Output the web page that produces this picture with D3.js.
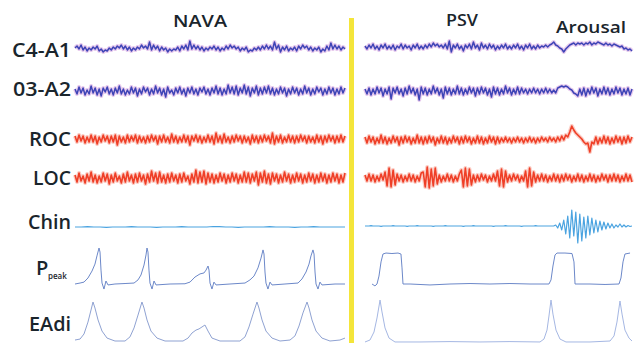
<!DOCTYPE html>
<html>
<head>
<meta charset="utf-8">
<script src="https://cdn.jsdelivr.net/npm/d3@7"></script>
<style>
  html, body { margin: 0; padding: 0; background: #ffffff; }
  svg { display: block; }
  text { font-family: 'Open Sans', 'Noto Sans', sans-serif; fill: #1a252c; font-weight: 600; }
</style>
</head>
<body>
<div id="chart"></div>
<script>
// ---- data (arbitrary signal units) ----
// Each window is 30 s long; traces are evenly sampled over the window.
const windows = ['NAVA', 'PSV'];
const channels = ['C4-A1', '03-A2', 'ROC', 'LOC', 'Chin'];

const c4Nava = `0 2 -1 3 -2 1 -3 0 -2 1 | -1 2 -3 -1 -4 -2 -3 0 -2 1 | -1 2 0 3 -1 2 -2 1 -3 0 |
  -2 1 -1 3 0 2 -1 6 -2 3 | -1 2 -3 1 -2 0 -4 -1 -3 -1 | -2 1 -3 2 -1 3 -2 7 -1 3 |
  -1 2 -2 1 -3 0 -2 1 -1 2 | -2 1 -3 0 -2 2 -1 3 0 2 | -1 1 -3 0 -2 1 -4 -2 -3 0 |
  -2 1 -2 2 -1 3 -1 2 -2 6 | -1 3 -4 1 -2 2 -3 0 -2 1 | -3 2 -1 3 0 2 -2 1 -3 0 |
  -2 1 -4 -1 -3 2 -2 5 -1 3 | -1 2 -2 1 -1`;
const o3Nava = `2 -3 4 -2 3 -4 1 -3 5 -2 | 3 -4 2 -5 3 -1 4 -3 2 -4 | 3 -2 5 -3 2 -4 1 -3 4 -2 |
  3 -5 2 -3 4 -1 3 -4 2 -3 | 5 -2 3 -4 2 -6 4 -2 1 -4 | 3 -2 4 -3 2 -5 3 -2 4 -3 |
  2 -4 3 -1 4 -3 2 -4 3 -2 | 5 -3 3 -4 2 -3 6 -2 4 -3 | 5 -4 3 -2 6 -3 4 -5 3 -2 |
  5 -4 3 -3 4 -2 5 -3 3 -4 | 2 -3 4 -2 3 -5 2 -3 4 -2 | 3 -4 2 -3 5 -2 3 -4 2 -3 |
  4 -1 3 -4 2 -3 4 -2 3 -4 | 2 -3 4 -2 3`;
const rocNava = `3 -3 4 -2 3 -4 2 -3 4 -3 | 3 -5 2 -3 4 -2 3 -4 3 -3 | 4 -6 3 -3 2 -4 4 -3 3 -2 |
  4 -4 3 -3 2 -4 3 -3 4 -2 | 3 -5 3 -3 4 -3 2 -4 5 -3 | 3 -4 2 -3 4 -3 3 -6 3 -2 |
  4 -3 3 -4 2 -3 4 -3 3 -5 | 6 -3 3 -4 5 -3 2 -4 3 -3 | 4 -2 3 -4 3 -3 2 -5 4 -3 |
  3 -4 3 -3 4 -2 3 -4 6 -5 | 3 -3 4 -4 2 -3 4 -3 3 -4 | 3 -3 4 -2 3 -4 3 -3 2 -4 |
  4 -3 3 -5 3 -3 4 -2 3 -4 | 3 -3 4 -3 3`;
const locNava = `3 -4 5 -3 2 -5 4 -3 6 -4 | 3 -5 2 -4 5 -3 4 -6 3 -4 | 5 -3 2 -5 4 -4 6 -3 3 -5 |
  4 -4 5 -3 3 -6 4 -4 7 -3 | 5 -5 6 -4 3 -5 4 -4 5 -3 | 3 -5 4 -4 5 -3 2 -6 4 -4 |
  8 -5 6 -4 7 -6 5 -4 4 -5 | 3 -4 5 -3 4 -5 3 -4 5 -3 | 4 -5 3 -4 6 -4 5 -5 4 -3 |
  6 -7 5 -4 7 -5 4 -6 5 -3 | 4 -5 3 -4 6 -3 4 -5 3 -4 | 5 -3 4 -5 3 -4 5 -3 4 -5 |
  3 -4 5 -3 4 -5 3 -4 5 -3 | 4 -5 3 -4 5`;
const chinNava = `0 0 0.3 0 0 -0.3 0 0 0 0.4 | 0 0 0 -0.3 0 0 0 0.3 0 0 |
  0 0 0.5 0.3 0 0 -0.3 0 0 0 | 0 0.3 0 0 0 -0.3 0 0 0.3 0 | 0 0 0 0`;

const c4Psv = `1 -2 2 -1 3 -2 1 -3 2 -1 | 3 -2 1 -2 2 -3 1 -1 3 -2 | 2 -1 1 -3 2 -1 3 -2 1 -2 |
  2 -1 3 0 4 1 3 0 2 -1 | 3 -2 6 -5 2 -1 3 -2 1 -4 | 2 -1 3 -2 5 -1 2 -3 4 -1 |
  2 -2 3 -1 2 -3 1 -2 2 -1 | 3 -2 1 -2 2 -1 3 -2 1 -3 | 2 -1 3 -2 1 -2 2 -1 1 0 |
  2 0 2 3 5 2 1 -1 -2 -5 | -2 0 2 3 4 2 4 3 4 2 | 4 3 5 2 4 3 5 4 3 2 |
  4 2 3 1 3 2 1 0 1 -2 | -1 -3 -2 -4`;
const o3Psv = `2 -3 3 -4 2 -3 4 -2 3 -5 | 2 -3 4 -8 3 -2 4 -3 2 -5 | 3 -3 5 -2 3 -4 2 -9 4 -3 |
  3 -4 2 -3 5 -2 3 -4 2 -7 | 4 -3 3 -4 2 -3 5 -3 3 -4 | 2 -3 4 -2 3 -5 3 -3 4 -2 |
  3 -4 2 -6 4 -3 3 -4 2 -3 | 5 -2 3 -4 2 -3 4 -3 3 -2 | 2 -3 2 -2 3 -2 2 -3 2 -2 |
  3 -2 2 -2 1 -2 3 4 5 4 | 5 4 2 1 -2 -3 -5 2 -4 3 | -5 2 -3 4 -2 3 -5 2 -3 4 |
  -3 3 -4 2 -3 4 -2 3 -4 2 | -3 3 -4 2`;
const rocPsv = `3 -3 4 -2 3 -4 2 -3 5 -3 | 3 -4 2 -3 4 -2 3 -5 3 -3 | 4 -2 3 -4 2 -3 5 -3 3 -4 |
  3 -3 4 -2 3 -5 2 -3 4 -3 | 3 -4 2 -3 4 -2 3 -4 3 -3 | 4 -2 3 -4 2 -3 4 -3 3 -4 |
  2 -3 4 -2 3 -4 3 -3 2 -2 | 3 -2 2 -3 2 -2 3 -2 2 -3 | 2 -2 3 -2 2 -3 2 -2 3 -1 |
  2 -2 3 -1 2 -2 3 -1 4 0 | 5 3 8 14 10 7 5 3 1 -2 | -4 -3 -12 -2 -4 3 -4 2 -3 4 |
  -3 3 -4 2 -3 4 -2 3 -4 3 | -3 4 -2 3`;
const locPsv = `3 -3 4 -3 3 -4 2 -3 4 -2 | 6 -8 10 -9 8 -7 4 -3 3 -4 | 2 -3 4 -3 3 -4 2 -3 5 6 |
  -9 11 -10 9 -8 10 -6 3 -4 2 | -3 4 -3 3 -4 2 -3 4 8 -9 | 10 -8 9 -7 3 -4 3 -3 4 -2 |
  3 -4 2 -3 4 -3 7 -8 9 -9 | 7 -4 3 -3 4 -2 3 -4 2 -3 | 7 -9 10 -8 6 -4 3 -3 4 -3 |
  3 -4 2 -3 4 -3 3 -4 3 -3 | 4 -2 3 -4 2 -3 4 -3 3 -4 | 2 -3 4 -3 3 -4 2 -3 4 -2 |
  3 -4 3 -3 4 -3 3 -4 2 -3 | 4 -3 3 -4`;
const chinPsv = `0 0 0 0.4 0 0 0 0 -0.3 0 | 0 0 0 0 0.3 0 0 0 0 0 | 0 -0.3 0 0 0 0 0.4 0 0 0 |
  0 0 0 0 -0.3 0 0 0 0 0 | 0.3 0 0 0 0 0 0 0 0 -0.3 | 0 0 0 0 0.3 0 0 0 0 0 |
  0 0 0 0 -0.3 0 0 0 0 0 | 0.4 0 0 0 0 0 0 0 -0.3 0 | 0 0 0 0 0 0.3 0 0 0 0 |
  0 0 0 0 0 1 -2 3 -4 6 | -8 10 -12 16 -10 14 -17 12 -15 9 | -12 10 -9 8 -7 6 -6 5 -4 4 |
  -3 3 -2 2 -2 1 -1 2 -1 1 | -1 0.5 -0.5 0`;

// Ppeak (cmH2O) and EAdi (µV) breath keypoints, time in s
const pPeakNavaT = [0, 0.56, 1.0, 1.44, 1.89, 2.22, 2.44, 2.67, 2.78, 2.89, 3.0, 3.22, 3.44, 3.67, 4.44, 5.56,
  6.56, 7.0, 7.33, 7.67, 7.89, 8.0, 8.11, 8.22, 8.33, 8.56, 8.78, 9.0, 10.56, 12.22,
  12.78, 13.33, 13.89, 14.33, 14.56, 14.78, 14.89, 15.0, 15.22, 15.44, 15.67, 17.22,
  18.89, 19.44, 19.89, 20.33, 20.67, 20.89, 21.0, 21.11, 21.22, 21.44, 21.67, 21.89, 23.33,
  24.78, 25.22, 25.67, 26.0, 26.22, 26.44, 26.56, 26.67, 26.78, 27.0, 27.22, 27.44, 28.89, 30];
const pPeakNavaV = [5, 5.4, 5.8, 7.5, 10.4, 13.3, 16.7, 20, 18.3, 10.8, 5.4, 2.9, 6.25, 4.6, 5, 5.2,
  5.4, 6.7, 8.75, 12.9, 17.1, 20, 18.3, 10.8, 5.4, 2.9, 6.25, 4.6, 5, 5.1,
  5.8, 7.9, 9.2, 9.6, 10.8, 12.5, 10.8, 5.4, 2.9, 5.8, 4.6, 5,
  5.4, 6.7, 8.3, 11.7, 15.8, 19.2, 17.5, 10, 5.4, 2.9, 5.8, 4.6, 5,
  5.4, 7.1, 10, 13.3, 16.7, 19.2, 17.5, 10, 5, 2.9, 5.8, 4.6, 5, 5];
const eadiNavaT = [0, 0.56, 1.0, 1.44, 1.78, 2.0, 2.22, 2.56, 3.0, 3.56, 4.44, 5.56,
  6.11, 6.56, 7.0, 7.44, 7.67, 8.0, 8.44, 9.11, 10.0, 12.0,
  12.56, 13.0, 13.44, 13.78, 14.11, 14.44, 14.78, 15.22, 16.11, 18.33,
  18.89, 19.33, 19.78, 20.22, 20.44, 20.78, 21.22, 21.89, 22.78,
  23.89, 24.44, 24.89, 25.33, 25.78, 26.0, 26.33, 26.78, 27.44, 28.33, 29.44, 30];
const eadiNavaV = [0.5, 1.0, 3.6, 9.7, 15.9, 20, 16.9, 10.8, 5.1, 1.5, 0, 0,
  2.1, 6.7, 13.3, 20, 16.9, 10.8, 5.1, 1.5, 0, 0,
  1.5, 4.1, 5.6, 6.2, 7.2, 8.2, 5.1, 1.5, 0, 0,
  2.1, 7.2, 13.8, 20, 16.9, 10.8, 5.1, 1.5, 0,
  0.5, 2.6, 7.7, 14.4, 20, 16.9, 10.8, 5.1, 1.5, 0, 0.5, 1.5];

const pPeakPsvT = [0.79, 1.12, 1.35, 1.57, 1.80, 2.02, 2.36, 3.03, 3.71, 4.04, 4.16, 4.27, 5.06, 7.30,
  9.55, 11.80, 14.04, 16.29, 18.54, 20.67, 20.90, 21.12, 21.35, 21.57, 22.47, 23.26, 23.48,
  23.60, 25.28, 26.97, 28.54, 28.76, 28.99, 29.21, 29.78];
const pPeakPsvV = [5, 4.2, 5, 8.3, 14.2, 17.5, 17.9, 17.7, 17.9, 17.5, 11.7, 5, 5, 4.6,
  5, 5.2, 5, 5.2, 5, 5, 6.7, 12.5, 17.1, 17.9, 17.9, 17.7, 14.2,
  5, 5, 4.8, 5, 7.5, 14.2, 17.5, 17.9];
const eadiPsvT = [0, 0.56, 1.01, 1.35, 1.69, 1.91, 2.25, 2.70, 3.37, 6.18, 9.55, 12.92, 16.29, 19.66,
  20.11, 20.45, 20.67, 20.90, 21.12, 21.46, 21.91, 22.58, 25.28, 27.53, 27.98, 28.31, 28.65,
  28.88, 29.21, 29.66, 30];
const eadiPsvV = [-0.5, 0.5, 4.6, 11.8, 21, 14.9, 6.7, 1.5, -0.5, -0.5, -0.3, -0.5, -0.3, -0.5,
  1.0, 5.6, 12.8, 21, 13.8, 5.6, 1.0, -0.5, -0.5, 0, 2.6, 9.7, 20.5,
  13.8, 5.6, 1.5, 0];

// ---- layout ----
const W = 638;
const H = 343;
const parse = (s) => s.trim().split(/[\s|]+/).filter((d) => d !== '').map(Number);

const svg = d3.select('#chart').append('svg').attr('width', W).attr('height', H);

const xScales = [
  d3.scaleLinear().domain([0, 30]).range([75, 345]),
  d3.scaleLinear().domain([0, 30]).range([365, 632]),
];

// channel rows: baseline per window, colour
const rows = [
  { name: 'C4-A1', base: [48, 47], color: '#3e44b6', halo: '#c98ad6', width: 1.5, series: [c4Nava, c4Psv] },
  { name: '03-A2', base: [91, 91], color: '#3e44b6', halo: '#c98ad6', width: 1.5, series: [o3Nava, o3Psv] },
  { name: 'ROC', base: [139, 140], color: '#ef3f27', halo: '#f6907e', width: 1.6, series: [rocNava, rocPsv] },
  { name: 'LOC', base: [178, 178], color: '#ef3f27', halo: '#f6907e', width: 1.6, series: [locNava, locPsv] },
  { name: 'Chin', base: [227, 226], color: '#4aa3e0', halo: null, width: 1.2, series: [chinNava, chinPsv] },
];

// Render yellow separator
svg
  .append('rect')
  .attr('x', 349)
  .attr('y', 18)
  .attr('width', 5)
  .attr('height', H - 18)
  .attr('fill', '#f4e53a');

// Render noisy channel traces
rows.forEach((row) => {
  row.series.forEach((str, w) => {
    const values = parse(str);
    const t = d3.scaleLinear().domain([0, values.length - 1]).range([0, 30]);
    const y = d3.scaleLinear().domain([-10, 10]).range([row.base[w] + 10, row.base[w] - 10]);
    const line = d3
      .line()
      .x((d, i) => xScales[w](t(i)))
      .y((d) => y(d));
    if (row.halo) {
      svg
        .append('path')
        .datum(values)
        .attr('d', line)
        .attr('fill', 'none')
        .attr('stroke', row.halo)
        .attr('stroke-width', 4)
        .attr('stroke-opacity', 0.45)
        .attr('stroke-linejoin', 'round');
    }
    svg
      .append('path')
      .datum(values)
      .attr('d', line)
      .attr('fill', 'none')
      .attr('stroke', row.color)
      .attr('stroke-width', row.width)
      .attr('stroke-linejoin', 'round');
  });
});

// Render Ppeak and EAdi
const yPeak = d3.scaleLinear().domain([5, 20]).range([284, 248]);
const yEadi = d3.scaleLinear().domain([0, 20]).range([341, 302]);

const breathTraces = [
  { t: pPeakNavaT, v: pPeakNavaV, w: 0, y: yPeak, color: '#6c88c9' },
  { t: pPeakPsvT, v: pPeakPsvV, w: 1, y: yPeak, color: '#6c88c9' },
  { t: eadiNavaT, v: eadiNavaV, w: 0, y: yEadi, color: '#8fa2d2' },
  { t: eadiPsvT, v: eadiPsvV, w: 1, y: yEadi, color: '#a5b7e3' },
];

breathTraces.forEach((b) => {
  const line = d3
    .line()
    .x((d, i) => xScales[b.w](b.t[i]))
    .y((d) => b.y(d));
  svg
    .append('path')
    .datum(b.v)
    .attr('d', line)
    .attr('fill', 'none')
    .attr('stroke', b.color)
    .attr('stroke-width', 1)
    .attr('stroke-linejoin', 'round');
});

// Render channel labels
const labelPos = [
  { text: 'C4-A1', y: 57, len: 59 },
  { text: '03-A2', y: 96, len: 58 },
  { text: 'ROC', y: 146, len: 42 },
  { text: 'LOC', y: 185, len: 38 },
  { text: 'Chin', y: 229, len: 43 },
  { text: 'EAdi', y: 331, len: 42 },
];
labelPos.forEach((l) => {
  svg
    .append('text')
    .attr('x', 71)
    .attr('y', l.y)
    .attr('text-anchor', 'end')
    .attr('font-size', 20)
    .attr('textLength', l.len)
    .attr('lengthAdjust', 'spacingAndGlyphs')
    .text(l.text);
});

// P with "peak" subscript
svg.append('text').attr('x', 36).attr('y', 275).attr('font-size', 20).text('P');
svg.append('text').attr('x', 48).attr('y', 279).attr('font-size', 8).text('peak');

// Render window titles
const titles = [
  { text: windows[0], x: 200, y: 27, len: 54 },
  { text: windows[1], x: 462, y: 26, len: 32 },
  { text: 'Arousal', x: 591, y: 33, len: 70 },
];
titles.forEach((t) => {
  svg
    .append('text')
    .attr('x', t.x)
    .attr('y', t.y)
    .attr('text-anchor', 'middle')
    .attr('font-size', 17)
    .attr('textLength', t.len)
    .attr('lengthAdjust', 'spacingAndGlyphs')
    .text(t.text);
});
</script>
</body>
</html>
